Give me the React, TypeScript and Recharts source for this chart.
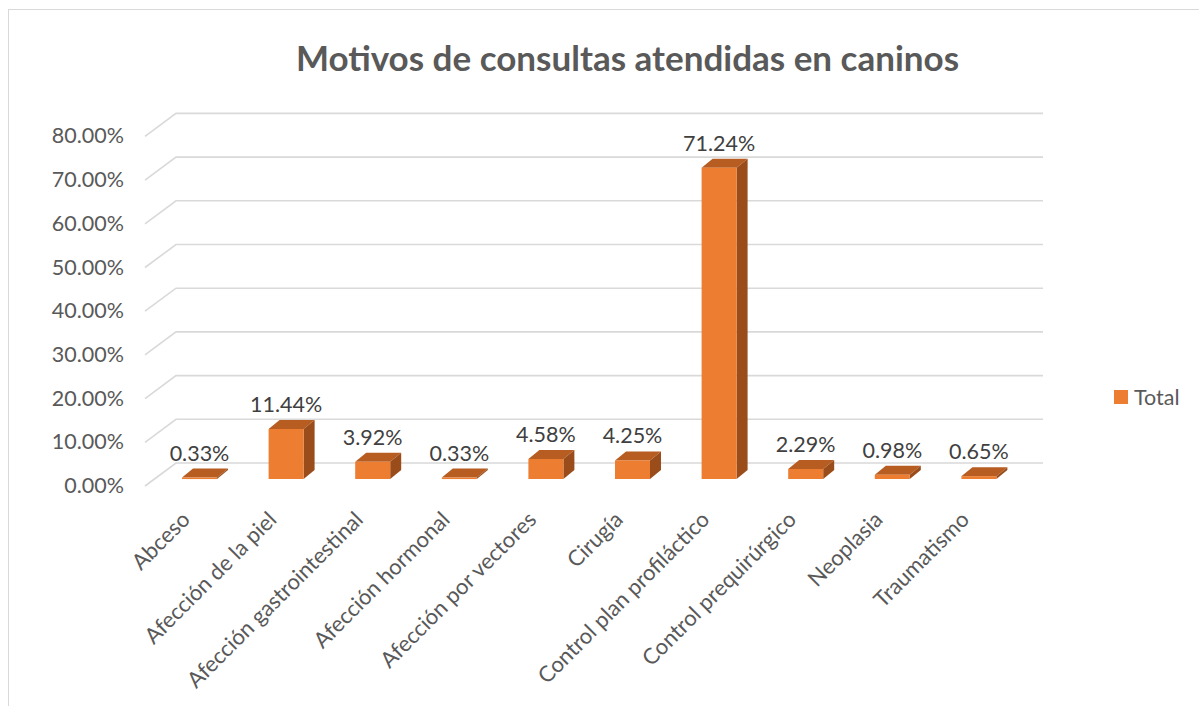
import { BarChart, Bar, XAxis, YAxis, CartesianGrid, LabelList } from 'recharts';

const categories = [
  'Abceso',
  'Afección de la piel',
  'Afección gastrointestinal',
  'Afección hormonal',
  'Afección por vectores',
  'Cirugía',
  'Control plan profiláctico',
  'Control prequirúrgico',
  'Neoplasia',
  'Traumatismo',
];

const totals = [0.0033, 0.1144, 0.0392, 0.0033, 0.0458, 0.0425, 0.7124, 0.0229, 0.0098, 0.0065];

const yTicks = [0, 0.1, 0.2, 0.3, 0.4, 0.5, 0.6, 0.7, 0.8];

const data = categories.map((name, i) => ({ name, total: totals[i] }));

const FONT = 'Lato, "Open Sans", sans-serif';
const GRAY = '#595959';
const pct = (v: number) => `${(v * 100).toFixed(2)}%`;

// depth of the 3d box for each bar
const DX = 11;
const DY = 9;

const Bar3D = (props: any) => {
  const { x, y, width, height } = props;
  return (
    <g>
      <path
        d={`M${x},${y} L${x + DX},${y - DY} L${x + width + DX},${y - DY} L${x + width},${y} Z`}
        fill="#b75d22"
      />
      <path
        d={`M${x + width},${y} L${x + width + DX},${y - DY} L${x + width + DX},${y + height - DY} L${x + width},${y + height} Z`}
        fill="#9a4d1b"
      />
      <rect x={x} y={y} width={width} height={Math.max(height, 1.5)} fill="#ed7d31" />
    </g>
  );
};

// grid line with a slanted floor edge on the left
const GridLine = (props: any) => {
  const { x1, x2, y1 } = props;
  return (
    <polyline
      key={`g-${y1}`}
      points={`${x1 - 11},${y1 + 7} ${x1 + 20},${y1 - 16} ${x2 + 21},${y1 - 16}`}
      fill="none"
      stroke="#d9d9d9"
      strokeWidth={1.6}
    />
  );
};

const YTick = ({ x, y, payload }: any) => (
  <text x={x - 32} y={y + 14} textAnchor="end" fill={GRAY} fontSize={21.5} fontFamily={FONT}>
    {pct(payload.value)}
  </text>
);

const XTick = ({ x, y, payload }: any) => {
  const ax = x - 8;
  const ay = y + 42;
  return (
    <text
      x={ax}
      y={ay}
      textAnchor="end"
      fill={GRAY}
      fontSize={22}
      fontFamily={FONT}
      transform={`rotate(-45, ${ax}, ${ay})`}
    >
      {payload.value}
    </text>
  );
};

const ValueLabel = ({ x, y, width, value }: any) => (
  <text x={x + width / 2} y={y - 17} textAnchor="middle" fill="#404040" fontSize={21.5} fontFamily={FONT}>
    {pct(value)}
  </text>
);

export default function App() {
  return (
    <div style={{ position: 'absolute', left: 0, top: 0, width: 1199, height: 713, background: '#fff', overflow: 'hidden' }}>
      <div
        style={{
          position: 'absolute',
          left: 8,
          top: 9,
          width: 1191,
          height: 696,
          borderLeft: '1.5px solid #d9d9d9',
          borderTop: '1.5px solid #d9d9d9',
        }}
      />
      <div
        style={{
          position: 'absolute',
          left: 0,
          width: 1255,
          top: 36,
          textAlign: 'center',
          fontFamily: FONT,
          fontWeight: 700,
          fontSize: 35,
          color: GRAY,
        }}
      >
        Motivos de consultas atendidas en caninos
      </div>
      <div
        style={{
          position: 'absolute',
          left: 1114,
          top: 384,
          display: 'flex',
          alignItems: 'center',
          gap: 6,
          fontFamily: FONT,
          fontSize: 21.5,
          color: GRAY,
        }}
      >
        <div style={{ width: 14, height: 14, background: '#ed7d31' }} />
        <span>Total</span>
      </div>
      <div style={{ position: 'absolute', left: 0, top: 0 }}>
        <BarChart
          width={1199}
          height={713}
          data={data}
          margin={{ top: 129.4, right: 177, bottom: 0, left: 6 }}
          barCategoryGap="30%"
        >
          <CartesianGrid vertical={false} horizontal={GridLine} />
          <XAxis
            dataKey="name"
            height={234}
            axisLine={false}
            tickLine={false}
            tickSize={0}
            tickMargin={0}
            interval={0}
            tick={<XTick />}
          />
          <YAxis
            width={150}
            domain={[0, 0.8]}
            ticks={yTicks}
            axisLine={false}
            tickLine={false}
            tickSize={0}
            tickMargin={0}
            tick={<YTick />}
          />
          <Bar dataKey="total" barSize={35} shape={<Bar3D />} isAnimationActive={false}>
            <LabelList dataKey="total" content={<ValueLabel />} />
          </Bar>
        </BarChart>
      </div>
    </div>
  );
}
